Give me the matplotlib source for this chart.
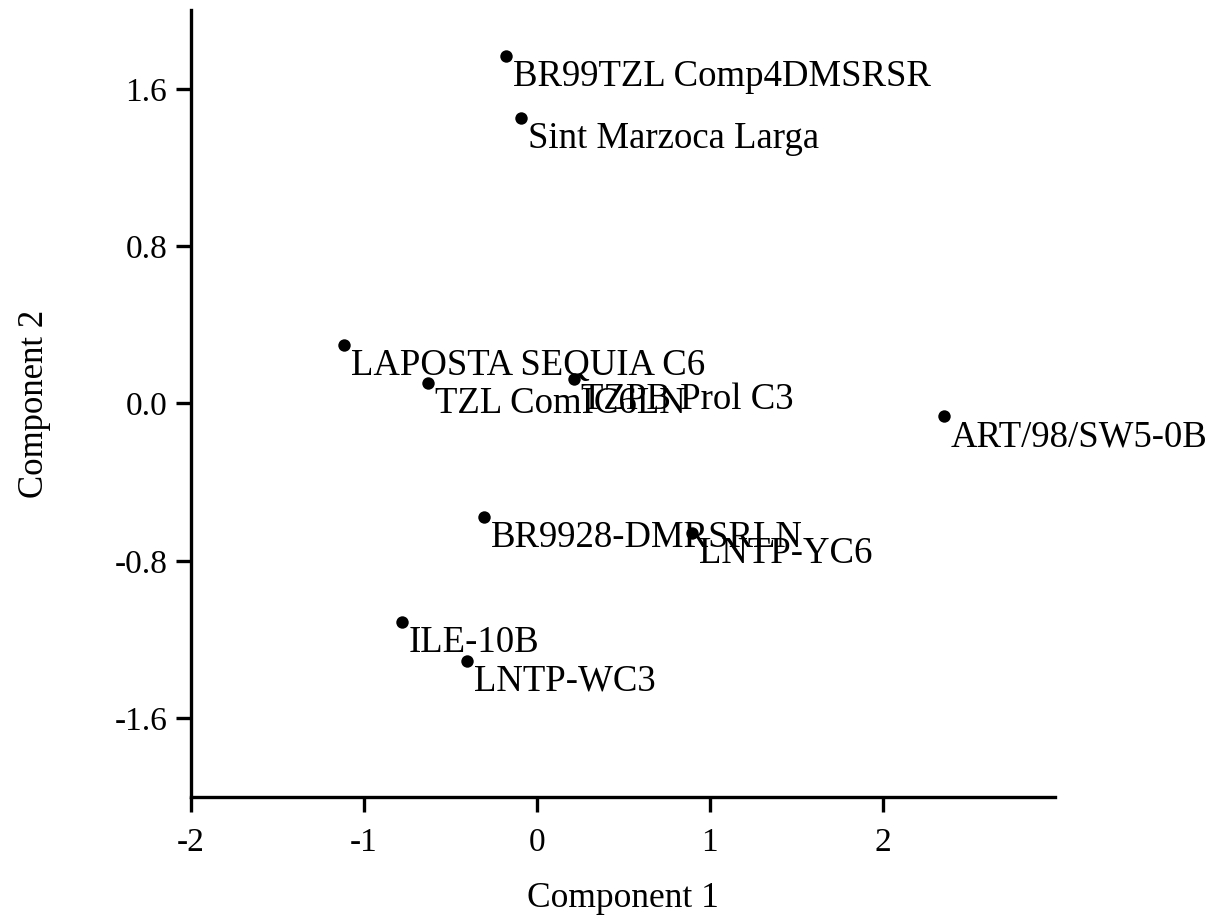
import matplotlib.pyplot as plt

# PCA scores for each line
names = [
    "BR99TZL Comp4DMSRSR", "Sint Marzoca Larga", "LAPOSTA SEQUIA C6",
    "TZL ComIC6LN", "TZPB Prol C3", "ART/98/SW5-0B", "BR9928-DMRSRLN",
    "LNTP-YC6", "ILE-10B", "LNTP-WC3",
]
comp1 = [-0.175, -0.09, -1.115, -0.63, 0.215, 2.355, -0.305, 0.895, -0.78, -0.405]
comp2 = [1.765, 1.453, 0.296, 0.103, 0.123, -0.065, -0.578, -0.66, -1.112, -1.308]

xticks = [-2, -1, 0, 1, 2]
yticks = [-1.6, -0.8, 0.0, 0.8, 1.6]

plt.rcParams['font.family'] = ['Liberation Serif', 'DejaVu Serif']
plt.rcParams['axes.unicode_minus'] = False

fig = plt.figure(figsize=(12.16, 9.16), dpi=100)
ax = fig.add_axes([0.157, 0.130, 0.711, 0.859])

ax.scatter(comp1, comp2, s=80, color='black', linewidths=0, zorder=3)
for n, x, y in zip(names, comp1, comp2):
    ax.annotate(n, (x, y), xytext=(7, -30), textcoords='offset pixels',
                ha='left', va='baseline', fontsize=26.5)

ax.set_xlim(-2, 3)
ax.set_ylim(-2, 2)
ax.set_xticks(xticks)
ax.set_yticks(yticks)
ax.set_yticklabels([f"{v:.1f}" for v in yticks])

for side in ('top', 'right'):
    ax.spines[side].set_visible(False)
for side in ('left', 'bottom'):
    ax.spines[side].set_linewidth(2.4)
ax.tick_params(length=11, width=2.4, labelsize=24)
ax.tick_params(axis='x', pad=11)
ax.tick_params(axis='y', pad=6)

ax.set_xlabel("Component 1", fontsize=25.5, labelpad=17)
ax.set_ylabel("Component 2", fontsize=25, labelpad=46)

fig.savefig("out.png", dpi=100)
